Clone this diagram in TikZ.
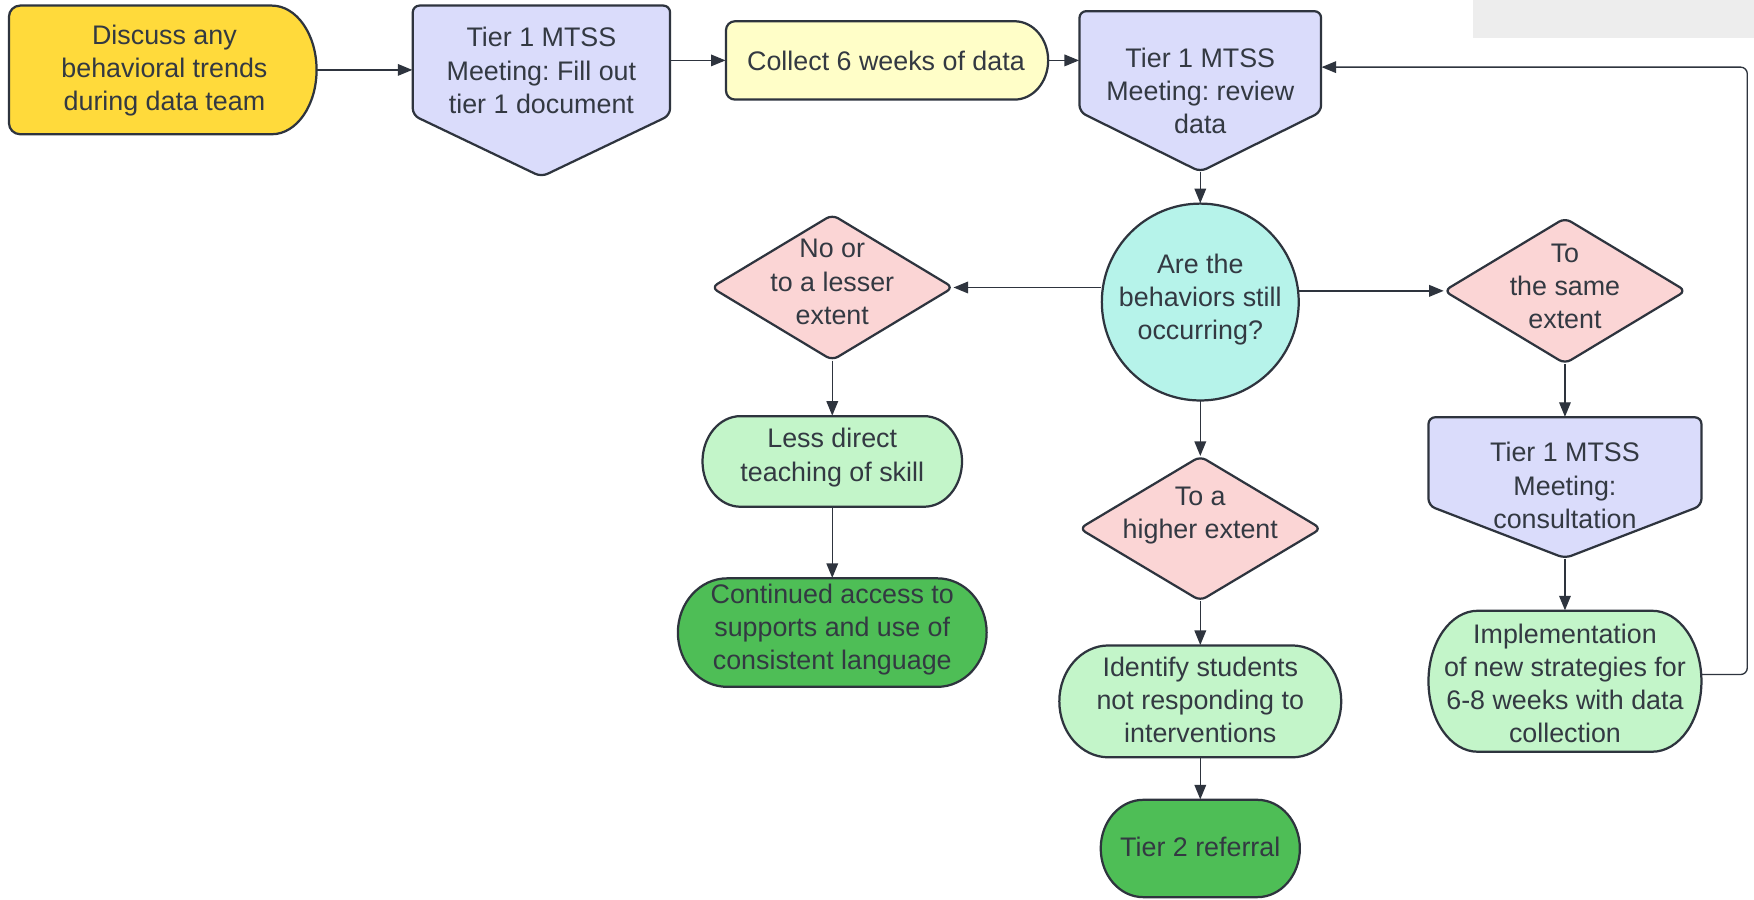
\documentclass[tikz,border=0pt]{standalone}
\usepackage{fontspec}
\setmainfont{Liberation Sans}
\usetikzlibrary{arrows.meta}
\frenchspacing
\definecolor{linecol}{HTML}{2E343E}
\definecolor{txtcol}{HTML}{333942}
\definecolor{yel}{HTML}{FFDA3B}
\definecolor{ltyel}{HTML}{FFFEC8}
\definecolor{lav}{HTML}{DADCFB}
\definecolor{pinkc}{HTML}{FBD5D5}
\definecolor{cyanc}{HTML}{B6F3EA}
\definecolor{ltgreen}{HTML}{C3F5C9}
\definecolor{dkgreen}{HTML}{4EBE56}
\definecolor{greybox}{HTML}{EDEDED}
\tikzset{
  txt/.style={text=txtcol, align=center, font=\fontsize{12}{14.8}\selectfont, inner sep=0pt},
  anchorbox/.style={draw=none, inner sep=0pt, rectangle},
  outline/.style={draw=linecol, line width=1pt, line join=round},
  conn/.style={draw=linecol, line width=0.6pt, -{Triangle[length=6.5pt,width=5.2pt]}},
}
% D shape: fill, x0,y0,x1,y1,rx,ry,r
\newcommand\dshape[8]{%
  \path[outline, fill=#1] ({#4-#6},#3) arc[start angle=-90,end angle=90,x radius=#6,y radius=#7]
    -- ({#2+#8},#5) arc[start angle=90,end angle=180,radius=#8]
    -- (#2,{#3+#8}) arc[start angle=180,end angle=270,radius=#8] -- cycle;}
% pill: fill, x0,y0,x1,y1,rx,ry
\newcommand\pill[7]{%
  \path[outline, fill=#1] ({#2+#6},#3) -- ({#4-#6},#3)
    arc[start angle=-90,end angle=90,x radius=#6,y radius=#7]
    -- ({#2+#6},#5) arc[start angle=90,end angle=270,x radius=#6,y radius=#7] -- cycle;}
% pentagon: x0,x1,y0,ys,yp,xc
\newcommand\pent[6]{%
  \path[outline, fill=lav, rounded corners=3pt] (#6,#3) -- (#2,#3) -- (#2,#4) -- (#6,#5) -- (#1,#4) -- (#1,#3) -- cycle;}
% diamond: x0,y0,x1,y1
\newcommand\diam[4]{%
  \path[outline, fill=pinkc, rounded corners=3pt] ({(3*#1+#3)/4},{(#2+#4)/2-(#4-#2)/4}) -- ({(#1+#3)/2},#2) -- (#3,{(#2+#4)/2}) -- ({(#1+#3)/2},#4) -- (#1,{(#2+#4)/2}) -- cycle;}
\begin{document}
\begin{tikzpicture}[x=0.5pt,y=-0.5pt]
\useasboundingbox (0,0) rectangle (1568,804);
\fill[white] (0,0) rectangle (1568,804);
\fill[greybox] (1317,0) rectangle (1568,34);

% shapes
\dshape{yel}{8}{5}{283}{120}{40}{57.5}{10}
\pent{369}{599}{5}{103}{158}{484}
\dshape{ltyel}{649}{19}{937}{89}{30}{35}{8}
\pent{965}{1181}{10}{100}{153.5}{1073}
\path[outline, fill=cyanc] (1073,270) circle[radius=88];
\diam{636}{192}{852}{322}
\diam{1291}{195}{1507}{325}
\diam{965}{408}{1181}{537}
\pill{ltgreen}{628}{372}{860}{453}{34}{40.5}
\pill{dkgreen}{606}{517}{882}{614}{44}{48.5}
\pill{ltgreen}{947}{577}{1199}{677}{44}{50}
\pill{dkgreen}{984}{715}{1162}{802}{38}{43.5}
\pent{1277}{1521}{373}{452}{499}{1399}
\pill{ltgreen}{1277}{546}{1521}{672}{44}{63}

% anchor nodes
\node[anchorbox, minimum width=137.5pt, minimum height=57.5pt] (disc) at (145.5,62.5) {};
\node[anchorbox, minimum width=115pt, minimum height=76.5pt] (fill1) at (484,81.5) {};
\node[anchorbox, minimum width=144pt, minimum height=35pt] (collect) at (793,54) {};
\node[anchorbox, minimum width=108pt, minimum height=71.75pt] (review) at (1073,81.75) {};
\node[circle, draw=none, inner sep=0pt, minimum size=88pt] (circ) at (1073,270) {};
\node[anchorbox, minimum width=108pt, minimum height=65pt] (dleft) at (744,257) {};
\node[anchorbox, minimum width=108pt, minimum height=65pt] (dright) at (1399,260) {};
\node[anchorbox, minimum width=108pt, minimum height=64.5pt] (dhigh) at (1073,472.5) {};
\node[anchorbox, minimum width=116pt, minimum height=40.5pt] (less) at (744,412.5) {};
\node[anchorbox, minimum width=138pt, minimum height=48.5pt] (cont) at (744,565.5) {};
\node[anchorbox, minimum width=126pt, minimum height=50pt] (ident) at (1073,627) {};
\node[anchorbox, minimum width=89pt, minimum height=43.5pt] (tier2) at (1073,758.5) {};
\node[anchorbox, minimum width=122pt, minimum height=63pt] (consult) at (1399,436) {};
\node[anchorbox, minimum width=122pt, minimum height=63pt] (impl) at (1399,609) {};

% texts
\node[txt] (disc-t) at (147,63) {Discuss any\\behavioral trends\\during data team};
\node[txt] (fill1-t) at (484,63) {Tier 1 MTSS\\Meeting: Fill out\\tier 1 document};
\node[txt] (collect-t) at (792,54) {Collect 6 weeks of data};
\node[txt] (review-t) at (1073,81) {Tier 1 MTSS\\Meeting: review\\data};
\node[txt] (circ-t) at (1073,268) {Are the\\behaviors still\\occurring?};
\node[txt] (dleft-t) at (744,252) {No or\\to a lesser\\extent};
\node[txt] (dright-t) at (1399,256) {To\\the same\\extent};
\node[txt] (dhigh-t) at (1073,461) {To a\\higher extent};
\node[txt] (less-t) at (744,409) {Less direct\\teaching of skill};
\node[txt] (cont-t) at (744,563) {Continued access to\\supports and use of\\consistent language};
\node[txt] (ident-t) at (1073,626) {Identify students\\not responding to\\interventions};
\node[txt] (tier2-t) at (1073,757) {Tier 2 referral};
\node[txt] (consult-t) at (1399,434) {Tier 1 MTSS\\Meeting:\\consultation};
\node[txt] (impl-t) at (1399,611) {Implementation\\of new strategies for\\6-8 weeks with data\\collection};

% connectors
\draw[conn] (disc.east) -- (fill1.west |- disc.east);
\draw[conn] (fill1.east |- collect.west) -- (collect.west);
\draw[conn] (collect.east) -- (review.west |- collect.east);
\draw[conn] (review.south) -- (circ.north);
\draw[conn] (circ.west |- dleft.east) -- (dleft.east);
\draw[conn] (circ.east |- dright.west) -- (dright.west);
\draw[conn] (circ.south) -- (dhigh.north);
\draw[conn] (dleft.south) -- (less.north);
\draw[conn] (less.south) -- (cont.north);
\draw[conn] (dhigh.south) -- (ident.north);
\draw[conn] (ident.south) -- (tier2.north);
\draw[conn] (dright.south) -- (consult.north);
\draw[conn] (consult.south) -- (impl.north);
\coordinate (fbtop) at (1562,60);
\draw[conn, rounded corners=3pt] ([yshift=3pt]impl.east) -| (fbtop) -- (review.east |- fbtop);
\end{tikzpicture}
\end{document}
